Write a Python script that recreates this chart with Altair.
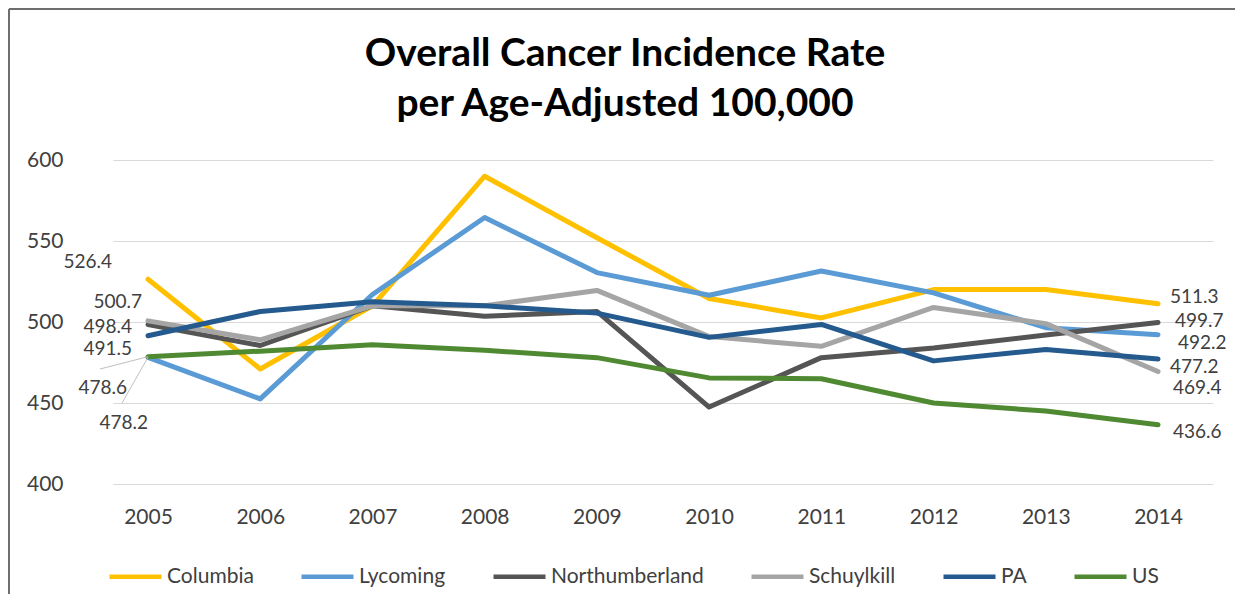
import altair as alt
import pandas as pd

# ---------------- data ----------------
YEARS = [2005, 2006, 2007, 2008, 2009, 2010, 2011, 2012, 2013, 2014]
SERIES = ["Columbia", "Lycoming", "Northumberland", "Schuylkill", "PA", "US"]
COLUMBIA = [526.4, 471.0, 510.0, 590.0, 552.0, 514.5, 502.5, 520.0, 520.0, 511.3]
LYCOMING = [478.2, 452.5, 517.0, 564.5, 530.5, 516.5, 531.5, 518.0, 496.5, 492.2]
NORTHUMBERLAND = [498.4, 485.5, 510.0, 503.5, 506.5, 447.5, 478.0, 484.0, 492.0, 499.7]
SCHUYLKILL = [500.7, 489.0, 510.0, 510.0, 519.5, 491.0, 485.0, 509.0, 499.0, 469.4]
PA = [491.5, 506.5, 512.5, 510.0, 505.5, 490.5, 498.5, 476.0, 483.0, 477.2]
US = [478.6, 482.0, 486.0, 482.5, 478.0, 465.5, 465.0, 450.0, 445.0, 436.6]
Y_TICKS = [400, 450, 500, 550, 600]
TITLE_LINES = ["Overall Cancer Incidence Rate", "per Age-Adjusted 100,000"]

# ---------------- style ----------------
COLORS = ["#FFC000", "#5B9BD5", "#555555", "#A5A5A5", "#245A8D", "#4F8A33"]
FONT = "Lato"
TEXT_COLOR = "#404040"
# label offsets (dx, dy) in pixels for first-year (left) and last-year (right) labels
LEFT_OFFSETS = {
    "Columbia": (-36, -17),
    "Schuylkill": (-6, -19),
    "Northumberland": (-16, 2),
    "PA": (-16, 13),
    "US": (-21, 31),
    "Lycoming": (0, 66),
}
RIGHT_OFFSETS = {
    "Columbia": (12, -7),
    "Northumberland": (17, -1),
    "Lycoming": (20, 8),
    "PA": (12, 8),
    "Schuylkill": (15, 16),
    "US": (15, 7),
}

values = [COLUMBIA, LYCOMING, NORTHUMBERLAND, SCHUYLKILL, PA, US]
rows = []
for name, vals in zip(SERIES, values):
    for yr, v in zip(YEARS, vals):
        rows.append({"series": name, "year": yr, "value": v})
df = pd.DataFrame(rows)

W, H = 1100, 324

x_enc = alt.X(
    "year:Q",
    scale=alt.Scale(domain=[2004.688, 2014.49], nice=False, zero=False),
    axis=alt.Axis(values=YEARS, format="d", title=None, grid=False, domain=False,
                  ticks=False, labelFont=FONT, labelFontSize=21, labelColor=TEXT_COLOR,
                  labelPadding=22),
)
y_enc = alt.Y(
    "value:Q",
    scale=alt.Scale(domain=[400, 600], nice=False, zero=False),
    axis=alt.Axis(values=Y_TICKS, title=None, grid=True, gridColor="#D9D9D9",
                  gridWidth=1.2, domain=False, ticks=False, labelFont=FONT,
                  labelFontSize=21, labelColor=TEXT_COLOR, labelPadding=50),
)

base = alt.Chart(df)

lines = base.mark_line(strokeWidth=5, strokeJoin="round", strokeCap="round").encode(
    x=x_enc,
    y=y_enc,
    color=alt.Color(
        "series:N",
        scale=alt.Scale(domain=SERIES, range=COLORS),
        sort=SERIES,
        legend=alt.Legend(
            title=None, orient="none", direction="horizontal", legendX=-6, legendY=388,
            symbolType="stroke", symbolSize=2704, symbolStrokeWidth=4.5,
            labelFont=FONT, labelFontSize=21, labelColor=TEXT_COLOR,
            columnPadding=38, labelOffset=3, padding=0,
        ),
    ),
    order=alt.Order("year:Q"),
)

layers = [lines]

# leader lines for the two overlapping 2005 labels
ld = df[(df.year == YEARS[0]) & (df.series.isin(["US", "Lycoming"]))]
layers.append(
    alt.Chart(ld[ld.series == "US"]).mark_rule(color="#BFBFBF", strokeWidth=1).encode(
        x="year:Q", y="value:Q", x2=alt.value(-13), y2=alt.value(209)
    )
)
layers.append(
    alt.Chart(ld[ld.series == "Lycoming"]).mark_rule(color="#BFBFBF", strokeWidth=1).encode(
        x="year:Q", y="value:Q", x2=alt.value(9), y2=alt.value(243)
    )
)

for name in SERIES:
    dx, dy = LEFT_OFFSETS[name]
    sub = df[(df.series == name) & (df.year == YEARS[0])]
    layers.append(
        alt.Chart(sub).mark_text(align="right", baseline="middle", dx=dx, dy=dy,
                                 font=FONT, fontSize=19, color=TEXT_COLOR).encode(
            x="year:Q", y="value:Q", text=alt.Text("value:Q", format=".1f")
        )
    )
    dx, dy = RIGHT_OFFSETS[name]
    sub = df[(df.series == name) & (df.year == YEARS[-1])]
    layers.append(
        alt.Chart(sub).mark_text(align="left", baseline="middle", dx=dx, dy=dy,
                                 font=FONT, fontSize=19, color=TEXT_COLOR).encode(
            x="year:Q", y="value:Q", text=alt.Text("value:Q", format=".1f")
        )
    )

# title as two centred text lines
title_df = pd.DataFrame({"line": TITLE_LINES, "row": [0, 1]})
for i, line in enumerate(TITLE_LINES):
    layers.append(
        alt.Chart(title_df[title_df.row == i]).mark_text(
            align="center", baseline="middle", font=FONT, fontSize=39,
            fontWeight="bold", color="#000000",
        ).encode(x=alt.value(512), y=alt.value(-106 + 50 * i), text="line:N")
    )

# chart frame border (left and top edges)
frame = pd.DataFrame({"a": [0]})
layers.append(
    alt.Chart(frame).mark_rule(color="#6E6E6E", strokeWidth=2).encode(
        x=alt.value(-104), y=alt.value(-151), y2=alt.value(470)
    )
)
layers.append(
    alt.Chart(frame).mark_rule(color="#6E6E6E", strokeWidth=2).encode(
        x=alt.value(-104), x2=alt.value(1125), y=alt.value(-151)
    )
)

chart = alt.layer(*layers).properties(
    width=W,
    height=H,
    autosize=alt.AutoSizeParams(type="none"),
    padding={"left": 105, "top": 152, "right": 22, "bottom": 110},
).configure(background="white").configure_view(strokeWidth=0)

chart.save("out.html", embed_options={"renderer": "svg", "actions": False})
